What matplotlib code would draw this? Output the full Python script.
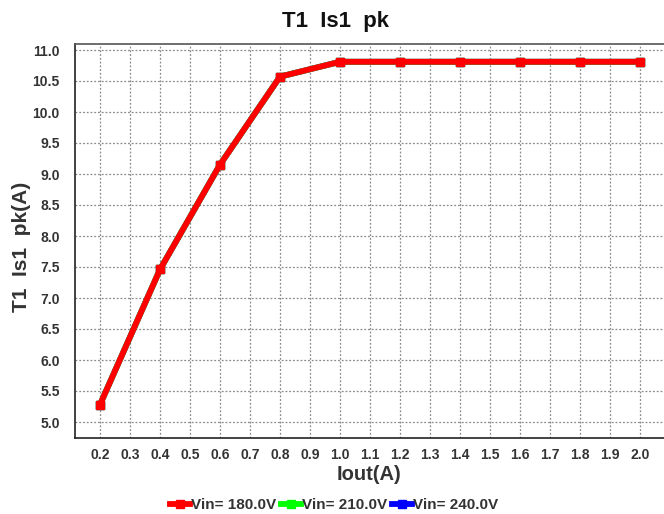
import matplotlib
matplotlib.use("Agg")
import matplotlib.pyplot as plt
import numpy as np

iout = [0.2, 0.4, 0.6, 0.8, 1.0, 1.2, 1.4, 1.6, 1.8, 2.0]
vin180 = [5.28, 7.46, 9.15, 10.57, 10.81, 10.81, 10.81, 10.81, 10.81, 10.81]
vin210 = [5.28, 7.46, 9.15, 10.57, 10.81, 10.81, 10.81, 10.81, 10.81, 10.81]
vin240 = [5.28, 7.46, 9.15, 10.57, 10.81, 10.81, 10.81, 10.81, 10.81, 10.81]
series_labels = ["Vin= 180.0V", "Vin= 210.0V", "Vin= 240.0V"]
series_colors = ["#ff0000", "#00ff00", "#0000ff"]
xticks = [round(0.2 + 0.1 * i, 1) for i in range(19)]
yticks = [5.0 + 0.5 * i for i in range(13)]

plt.rcParams['font.family'] = ['Liberation Sans', 'DejaVu Sans']
txt = "#333333"

fig = plt.figure(figsize=(6.64, 5.14), dpi=100)
ax = fig.add_axes([75/664, 76/514, 589/664, 394/514])

handles = []
for vals, lab, col, z in zip([vin180, vin210, vin240], series_labels, series_colors, [5, 4, 3]):
    h, = ax.plot(iout, vals, color=col, lw=4.2, marker='s', markersize=6,
                 markeredgecolor=col, label=lab, zorder=z)
    handles.append(h)

ax.set_xlim(0.2 - 25/300, 0.2 + 564/300)
ax.set_ylim(5.0 - 16/62, 11.0 + 6/62)
ax.set_xticks(xticks)
ax.set_xticklabels([f"{v:.1f}" for v in xticks])
ax.set_yticks(yticks)
ax.set_yticklabels([f"{v:.1f}" for v in yticks])
ax.tick_params(axis='x', length=0, pad=7, labelsize=10, labelcolor=txt)
ax.tick_params(axis='y', length=0, pad=11, labelsize=10, labelcolor=txt)
for lbl in ax.get_xticklabels() + ax.get_yticklabels():
    lbl.set_fontweight('bold')
ax.grid(True, color='#8a8a8a', linestyle=(0, (1.5, 1.5)), linewidth=0.9)
ax.spines['right'].set_visible(False)
ax.spines['top'].set_color('#555555')
ax.spines['left'].set_color('#222222')
ax.spines['bottom'].set_color('#222222')
for s in ax.spines.values():
    s.set_linewidth(1.2)

fig.text(336/664, 1 - 22/514, "T1  Is1  pk", fontsize=16, fontweight='bold',
         color='#111111', ha='center', va='center')
ax.set_xlabel("Iout(A)", fontsize=14.5, fontweight='bold', color=txt)
ax.xaxis.set_label_coords((369 - 75) / 589, (438 - 475) / 394)
ax.xaxis.label.set_va('center')
ax.set_ylabel("T1  Is1  pk(A)", fontsize=15, fontweight='bold', color=txt)
ax.yaxis.set_label_coords((22 - 75) / 589, (438 - 247) / 394)
ax.yaxis.label.set_va('center')

leg = fig.legend(handles=handles, loc='center', bbox_to_anchor=(334/664, 9/514), ncol=3,
                 frameon=False, handlelength=1.3, handletextpad=0.1,
                 columnspacing=0.3, prop={'weight': 'bold', 'size': 11})
for t in leg.get_texts():
    t.set_color(txt)

fig.savefig("out.png", dpi=100)
